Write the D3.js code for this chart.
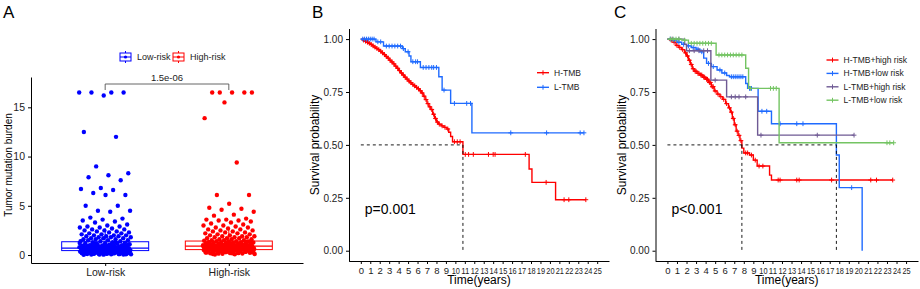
<!DOCTYPE html>
<html>
<head>
<meta charset="utf-8">
<script src="https://cdn.jsdelivr.net/npm/d3@7"></script>
<style>
  body { margin: 0; background: #fff; }
  text { font-family: "Liberation Sans", Arial, sans-serif; }
</style>
</head>
<body>
<div id="chart"></div>
<script>
// ---- panel A data (tumour mutation burden per risk group) ----
var riskGroups = ['Low-risk', 'High-risk'];
var riskColors = ['#0000FF', '#FF0000'];
var lowRiskTMB = [16.5, 16.5, 16.5, 16.5, 16.2, 12.5, 12.0, 9.0, 8.3, 8.1, 7.9, 7.6, 6.8, 6.7, 6.6, 6.3, 6.1, 6.1,
  5.0, 5.0, 4.5, 4.5, 4.4, 3.8, 3.7, 3.6, 3.5, 3.4, 3.3, 3.1, 3.0, 2.9, 2.9, 2.8, 2.8, 2.7, 2.6, 2.6, 2.5, 2.5,
  2.4, 2.4, 2.3, 2.3, 2.2, 2.2, 2.1, 2.1, 2.0, 2.0, 2.0, 1.9, 1.9, 1.9, 1.8, 1.8, 1.8, 1.7, 1.7, 1.7, 1.6, 1.6,
  1.6, 1.5, 1.5, 1.5, 1.4, 1.4, 1.4, 1.3, 1.3, 1.25, 1.2, 1.2, 1.15, 1.1, 1.1, 1.05, 1.0, 1.0, 0.97, 0.95, 0.93,
  0.9, 0.9, 0.88, 0.85, 0.85, 0.82, 0.8, 0.8, 0.78, 0.75, 0.75, 0.73, 0.7, 0.7, 0.68, 0.66, 0.65, 0.63, 0.62,
  0.6, 0.6, 0.58, 0.57, 0.55, 0.55, 0.53, 0.52, 0.5, 0.5, 0.48, 0.47, 0.45, 0.45, 0.43, 0.42, 0.4, 0.4, 0.38,
  0.37, 0.35, 0.35, 0.33, 0.32, 0.3, 0.3, 0.28, 0.27, 0.25, 0.25, 0.23, 0.22, 0.2, 0.2, 0.18, 0.17, 0.15, 0.15,
  0.13, 0.12, 0.1, 0.1, 0.08, 0.07, 0.05, 0.05, 0.04, 0.03, 1.28, 1.18, 1.08, 0.98, 0.92, 0.87, 0.83, 0.77, 0.72,
  0.67, 0.64, 0.59, 0.54, 0.51, 0.46, 0.44, 0.41, 0.36, 0.34, 0.31, 0.26, 0.24, 0.21, 0.16, 0.14, 0.11, 0.09,
  0.06, 1.22, 1.12, 1.02, 0.96, 0.89, 0.81, 0.76, 0.71, 0.69, 0.61, 0.56, 0.49, 0.39, 0.29, 0.19, 0.12, 0.08];
var highRiskTMB = [16.5, 16.5, 16.5, 16.5, 16.5, 15.5, 13.9, 9.4, 6.1, 6.1, 5.2, 4.8, 4.7, 4.6, 4.4, 4.1, 4.0,
  3.7, 3.6, 3.6, 3.5, 3.5, 3.4, 3.3, 3.2, 3.1, 3.0, 3.0, 2.9, 2.8, 2.8, 2.7, 2.6, 2.6, 2.5, 2.5, 2.4, 2.4, 2.3,
  2.3, 2.2, 2.2, 2.1, 2.1, 2.0, 2.0, 1.9, 1.9, 1.9, 1.8, 1.8, 1.8, 1.7, 1.7, 1.7, 1.6, 1.6, 1.6, 1.5, 1.5, 1.5,
  1.45, 1.4, 1.4, 1.38, 1.35, 1.33, 1.3, 1.3, 1.28, 1.25, 1.22, 1.2, 1.2, 1.17, 1.15, 1.12, 1.1, 1.1, 1.08, 1.05,
  1.03, 1.0, 1.0, 0.98, 0.96, 0.95, 0.93, 0.92, 0.9, 0.9, 0.88, 0.87, 0.85, 0.84, 0.82, 0.8, 0.8, 0.78, 0.77,
  0.75, 0.74, 0.72, 0.7, 0.7, 0.68, 0.66, 0.65, 0.63, 0.62, 0.6, 0.6, 0.58, 0.56, 0.55, 0.53, 0.52, 0.5, 0.48,
  0.47, 0.45, 0.43, 0.42, 0.4, 0.38, 0.36, 0.35, 0.33, 0.3, 0.28, 0.26, 0.25, 0.22, 0.2, 0.18, 0.15, 0.13, 0.1,
  0.08, 0.06, 1.36, 1.27, 1.19, 1.13, 1.06, 0.99, 0.94, 0.91, 0.86, 0.83, 0.79, 0.76, 0.73, 0.69, 0.64, 0.61,
  0.57, 0.54, 0.49, 0.44, 0.39, 0.34, 0.29, 0.24, 0.19, 0.14, 1.31, 1.21, 1.11, 1.01, 0.97, 0.89, 0.81, 0.71,
  0.67, 0.59, 0.51, 0.46, 0.37, 0.27, 0.17, 0.11];
// box summary: [q1, median, q3, lower whisker, upper whisker]
var lowRiskBox = [0.45, 0.7, 1.35, 0.03, 2.7];
var highRiskBox = [0.55, 0.9, 1.42, 0.06, 2.75];
var pValueA = '1.5e-06';
var tmbTicks = [0, 5, 10, 15];

// ---- panels B and C: Kaplan-Meier curves ----
var yearTicks = d3.range(0, 26);
var survTicks = [0, 0.25, 0.5, 0.75, 1];

// B: H-TMB
var bHighTimes = [0.2, 0.4, 0.6, 0.8, 1.0, 1.2, 1.4, 1.6, 1.8, 2.0, 2.2, 2.4, 2.6, 2.8, 3.0, 3.2, 3.4, 3.6, 3.8,
  4.0, 4.2, 4.4, 4.6, 4.8, 5.0, 5.2, 5.4, 5.6, 5.8, 6.0, 6.2, 6.4, 6.6, 6.8, 7.0, 7.2, 7.4, 7.6, 7.8, 8.0, 8.2,
  8.5, 8.8, 9.1, 9.3, 9.5, 9.7, 10.8, 17.8, 18.1, 20.6];
var bHighSurv = [0.995, 0.99, 0.985, 0.98, 0.975, 0.968, 0.962, 0.956, 0.95, 0.943, 0.935, 0.927, 0.918, 0.91,
  0.9, 0.892, 0.883, 0.872, 0.862, 0.851, 0.84, 0.83, 0.82, 0.811, 0.802, 0.794, 0.786, 0.779, 0.772, 0.765,
  0.756, 0.745, 0.73, 0.714, 0.695, 0.68, 0.667, 0.645, 0.625, 0.608, 0.598, 0.59, 0.583, 0.575, 0.56, 0.54,
  0.515, 0.455, 0.386, 0.323, 0.241];
var bHighCens = [0.3, 0.5, 0.7, 0.9, 1.1, 1.3, 1.5, 1.7, 1.9, 2.1, 2.3, 2.5, 2.7, 2.9, 3.1, 3.3, 3.5, 3.7, 3.9,
  4.1, 4.3, 4.5, 4.7, 4.9, 5.1, 5.3, 5.5, 5.7, 5.9, 6.1, 6.3, 6.5, 6.7, 6.9, 7.1, 7.3, 7.5, 7.7, 7.9, 8.1, 8.3,
  8.6, 8.9, 9.2, 9.9, 10.2, 10.5, 11.05, 11.4, 11.9, 13.5, 14.0, 14.2, 17.4, 19.6, 21.5, 22.0, 23.8];
// B: L-TMB
var bLowTimes = [1.6, 2.4, 4.4, 4.7, 5.1, 5.3, 6.3, 8.25, 8.6, 9.5, 11.75];
var bLowSurv = [0.987, 0.967, 0.955, 0.94, 0.92, 0.893, 0.866, 0.822, 0.759, 0.696, 0.557];
var bLowCens = [0.2, 0.4, 0.6, 0.8, 1.0, 1.2, 1.4, 1.8, 2.1, 2.7, 3.0, 3.3, 3.6, 3.9, 4.2, 4.5, 5.0, 5.5, 5.8,
  6.0, 6.6, 6.9, 7.2, 7.5, 7.7, 8.0, 8.8, 9.9, 11.2, 11.6, 15.86, 19.65, 23.2, 23.6];

// C: H-TMB+high risk
var cHHTimes = [0.3, 0.6, 0.9, 1.2, 1.5, 1.8, 2.0, 2.2, 2.4, 2.6, 2.8, 3.1, 3.4, 3.7, 4.0, 4.3, 4.6, 4.9, 5.2,
  5.5, 5.8, 6.1, 6.4, 6.6, 6.8, 7.0, 7.2, 7.4, 7.6, 7.8, 8.0, 8.6, 9.0, 9.4, 10.7, 10.9];
var cHHSurv = [0.995, 0.985, 0.97, 0.96, 0.95, 0.935, 0.92, 0.9, 0.88, 0.86, 0.848, 0.838, 0.83, 0.82, 0.81,
  0.795, 0.775, 0.755, 0.74, 0.728, 0.715, 0.695, 0.675, 0.655, 0.625, 0.595, 0.565, 0.545, 0.52, 0.485,
  0.462, 0.452, 0.428, 0.4, 0.357, 0.334];
var cHHCens = [0.4, 0.7, 1.0, 1.3, 1.6, 1.9, 2.1, 2.3, 2.5, 2.7, 2.9, 3.0, 3.2, 3.3, 3.5, 3.6, 3.8, 3.9, 4.1,
  4.2, 4.4, 4.5, 4.7, 4.8, 5.0, 5.3, 5.6, 5.9, 6.2, 6.5, 6.7, 6.9, 7.1, 7.3, 7.5, 7.7, 8.2, 8.4, 8.8, 9.2, 9.6,
  10.0, 11.6, 11.8, 13.55, 13.8, 17.2, 21.3, 21.9, 23.6];
// C: H-TMB+low risk
var cHLTimes = [0.5, 1.0, 1.5, 2.0, 2.5, 3.0, 3.4, 3.8, 4.1, 4.6, 5.2, 5.7, 6.2, 6.5, 8.2, 8.4, 9.5, 10.9, 17.7,
  18.0, 20.4];
var cHLSurv = [0.995, 0.985, 0.975, 0.968, 0.96, 0.952, 0.94, 0.91, 0.885, 0.87, 0.854, 0.84, 0.828, 0.822,
  0.79, 0.767, 0.659, 0.6, 0.452, 0.298, 0];
var cHLCens = [0.3, 0.7, 1.2, 1.7, 2.2, 2.7, 3.2, 3.6, 4.3, 4.8, 5.5, 6.0, 6.7, 6.9, 7.1, 7.3, 7.5, 7.7, 7.9,
  8.6, 8.8, 9.9, 10.4, 11.8, 13.55, 14.2, 19.3];
// C: L-TMB+high risk
var cLHTimes = [1.8, 2.0, 4.55, 6.2, 9.45];
var cLHSurv = [0.975, 0.945, 0.806, 0.727, 0.546];
var cLHCens = [0.5, 1.2, 2.3, 2.8, 3.3, 3.8, 4.2, 5.0, 6.7, 7.1, 7.5, 8.2, 9.8, 15.7, 19.55];
// C: L-TMB+low risk
var cLLTimes = [1.5, 2.2, 5.1, 8.2, 8.5, 11.7];
var cLLSurv = [0.995, 0.98, 0.925, 0.862, 0.767, 0.51];
var cLLCens = [0.3, 0.6, 0.9, 1.2, 1.8, 2.5, 2.8, 3.1, 3.4, 3.7, 4.0, 4.3, 4.6, 5.4, 5.7, 6.0, 6.3, 6.6, 6.9,
  7.2, 7.5, 7.8, 8.7, 10.8, 11.1, 11.4, 23.0, 23.3, 23.7];

var W = 920, H = 289;
var svg = d3.select('#chart').append('svg')
    .attr('width', W)
    .attr('height', H);

function styleAxis(sel, size) {
    sel.selectAll('.domain').attr('stroke', '#000').attr('stroke-width', 1);
    sel.selectAll('.tick line').attr('stroke', '#000');
    sel.selectAll('.tick text')
        .attr('fill', '#222')
        .style('font-size', size + 'px')
        .style('font-family', '"Liberation Sans", Arial, sans-serif');
}

function panelLabel(txt, x) {
    svg.append('text')
        .attr('x', x)
        .attr('y', 18)
        .style('font-size', '17px')
        .text(txt);
}

// ================= panel A =================
var xA = d3.scalePoint().domain(riskGroups).range([31, 303]).padding(0.6);
var yA = d3.scaleLinear().domain([-0.81, 18.08]).range([263, 77]);
var gA = svg.append('g');

var yAxisA = gA.append('g')
    .attr('transform', 'translate(31,0)')
    .call(d3.axisLeft(yA).tickValues(tmbTicks).tickSize(3).tickSizeOuter(0));
styleAxis(yAxisA, 10.5);
var xAxisA = gA.append('g')
    .attr('transform', 'translate(0,263)')
    .call(d3.axisBottom(xA).tickSize(3).tickSizeOuter(0));
styleAxis(xAxisA, 10.5);

gA.append('text')
    .attr('transform', 'translate(12,' + ((77 + 263) / 2 - 5) + ') rotate(-90)')
    .attr('text-anchor', 'middle')
    .style('font-size', '10px')
    .text('Tumor mutation burden');

var boxes = [lowRiskBox, highRiskBox];
var tmbData = [lowRiskTMB, highRiskTMB];
riskGroups.forEach(function (grp, gi) {
    var cx = xA(grp);
    var b = boxes[gi];
    var col = riskColors[gi];
    var bw = 87;
    gA.append('line')
        .attr('x1', cx).attr('x2', cx)
        .attr('y1', yA(b[2])).attr('y2', yA(b[4]))
        .attr('stroke', col);
    gA.append('line')
        .attr('x1', cx).attr('x2', cx)
        .attr('y1', yA(b[0])).attr('y2', yA(b[3]))
        .attr('stroke', col);
    gA.append('rect')
        .attr('x', cx - bw / 2)
        .attr('y', yA(b[2]))
        .attr('width', bw)
        .attr('height', yA(b[0]) - yA(b[2]))
        .attr('fill', '#fff')
        .attr('stroke', col)
        .attr('stroke-width', 1);
    gA.append('line')
        .attr('x1', cx - bw / 2).attr('x2', cx + bw / 2)
        .attr('y1', yA(b[1])).attr('y2', yA(b[1]))
        .attr('stroke', col)
        .attr('stroke-width', 1.2);

    // jittered points; offsets spread with the golden ratio so they are repeatable
    gA.selectAll('circle.grp' + gi)
        .data(tmbData[gi])
        .enter()
        .append('circle')
        .attr('class', 'grp' + gi)
        .attr('cx', function (d, i) {
            return cx + (((i + gi * 7) * 0.6180339887) % 1 - 0.5) * 52;
        })
        .attr('cy', function (d) {
            return yA(d);
        })
        .attr('r', 2.2)
        .attr('fill', col);
});

// p value bracket
var bracketY = 84;
gA.append('path')
    .attr('d', 'M' + xA(riskGroups[0]) + ',' + (bracketY + 6) + 'V' + bracketY +
        'H' + xA(riskGroups[1]) + 'V' + (bracketY + 6))
    .attr('fill', 'none')
    .attr('stroke', '#555')
    .attr('stroke-width', 0.9);
gA.append('text')
    .attr('x', (xA(riskGroups[0]) + xA(riskGroups[1])) / 2)
    .attr('y', bracketY - 3)
    .attr('text-anchor', 'middle')
    .style('font-size', '9.5px')
    .attr('fill', '#222')
    .text(pValueA);

// legend A
var legA = gA.append('g');
[120, 173].forEach(function (lx, gi) {
    var col = riskColors[gi];
    var ly = 57;
    legA.append('line').attr('x1', lx + 5.5).attr('x2', lx + 5.5)
        .attr('y1', ly - 6).attr('y2', ly + 6).attr('stroke', col);
    legA.append('rect').attr('x', lx).attr('y', ly - 4).attr('width', 11).attr('height', 8)
        .attr('fill', '#fff').attr('stroke', col);
    legA.append('line').attr('x1', lx).attr('x2', lx + 11)
        .attr('y1', ly).attr('y2', ly).attr('stroke', col);
    legA.append('circle').attr('cx', lx + 5.5).attr('cy', ly).attr('r', 1.6).attr('fill', col);
    legA.append('text').attr('x', lx + 17).attr('y', ly + 3.2)
        .style('font-size', '9px').attr('fill', '#222')
        .text(riskGroups[gi]);
});

panelLabel('A', 3);

// ================= KM panels =================
function survAt(times, surv, t) {
    var s = 1;
    for (var i = 0; i < times.length; i++) {
        if (times[i] <= t) s = surv[i];
    }
    return s;
}

function kmPanel(opt) {
    var x = d3.scaleLinear().domain([-1.25, 26.25]).range([opt.left, opt.right]);
    var y = d3.scaleLinear().domain([-0.05, 1.05]).range([261.3, 28.5]);
    var g = svg.append('g');

    var yAx = g.append('g')
        .attr('transform', 'translate(' + opt.left + ',0)')
        .call(d3.axisLeft(y).tickValues(survTicks).tickFormat(d3.format('.2f')).tickSize(3).tickSizeOuter(0));
    styleAxis(yAx, 10);
    var xAx = g.append('g')
        .attr('transform', 'translate(0,261)')
        .call(d3.axisBottom(x).tickValues(yearTicks).tickFormat(d3.format('d')).tickSize(3).tickSizeOuter(0));
    styleAxis(xAx, 9.5);
    // two-digit year labels are squeezed, as they are in the original figure
    xAx.selectAll('.tick text')
        .filter(function (d) { return d >= 10; })
        .attr('textLength', 8.2)
        .attr('lengthAdjust', 'spacingAndGlyphs');

    g.append('text')
        .attr('transform', 'translate(' + (opt.left - 30) + ',145) rotate(-90)')
        .attr('text-anchor', 'middle')
        .style('font-size', '12px')
        .text('Survival probability');
    g.append('text')
        .attr('x', (opt.left + opt.right) / 2)
        .attr('y', 284)
        .attr('text-anchor', 'middle')
        .style('font-size', '12px')
        .text('Time(years)');

    var line = d3.line()
        .x(function (d) { return x(d[0]); })
        .y(function (d) { return y(d[1]); })
        .curve(d3.curveStepAfter);

    var medians = [];
    opt.series.forEach(function (s) {
        var pts = [[0, 1]];
        s.times.forEach(function (t, i) { pts.push([t, s.surv[i]]); });
        var lastT = Math.max(d3.max(s.times), d3.max(s.cens));
        if (s.surv[s.surv.length - 1] > 0) pts.push([lastT, s.surv[s.surv.length - 1]]);
        g.append('path')
            .attr('d', line(pts))
            .attr('fill', 'none')
            .attr('stroke', s.color)
            .attr('stroke-width', 1.4);
        g.selectAll(null)
            .data(s.cens)
            .enter()
            .append('path')
            .attr('transform', function (t) {
                return 'translate(' + x(t) + ',' + y(survAt(s.times, s.surv, t)) + ')';
            })
            .attr('d', 'M-2.4,0H2.4M0,-2.4V2.4')
            .attr('stroke', s.color)
            .attr('stroke-width', 1);
        var idx = s.surv.findIndex(function (v) { return v <= 0.5; });
        if (idx >= 0) medians.push(s.times[idx]);
    });

    // median survival lines
    var maxMed = d3.max(medians);
    g.append('line')
        .attr('x1', x(0)).attr('x2', x(maxMed))
        .attr('y1', y(0.5)).attr('y2', y(0.5))
        .attr('stroke', '#000').attr('stroke-width', 0.9)
        .attr('stroke-dasharray', '3,3');
    medians.forEach(function (m) {
        g.append('line')
            .attr('x1', x(m)).attr('x2', x(m))
            .attr('y1', y(0.5)).attr('y2', y(0))
            .attr('stroke', '#000').attr('stroke-width', 0.9)
            .attr('stroke-dasharray', '3,3');
    });

    g.append('text')
        .attr('x', x(0) + 4)
        .attr('y', 214)
        .style('font-size', '14px')
        .text(opt.pText);

    // legend
    opt.series.forEach(function (s, i) {
        var ly = opt.legendY + i * opt.legendStep;
        g.append('line')
            .attr('x1', opt.legendX).attr('x2', opt.legendX + 12)
            .attr('y1', ly).attr('y2', ly)
            .attr('stroke', s.color).attr('stroke-width', 1.4);
        g.append('path')
            .attr('transform', 'translate(' + (opt.legendX + 6) + ',' + ly + ')')
            .attr('d', 'M0,-2.4V2.4')
            .attr('stroke', s.color).attr('stroke-width', 1);
        g.append('text')
            .attr('x', opt.legendX + 17)
            .attr('y', ly + 3)
            .style('font-size', '8.5px')
            .attr('fill', '#222')
            .text(s.name);
    });
}

kmPanel({
    left: 349, right: 609,
    pText: 'p=0.001',
    legendX: 537, legendY: 72.7, legendStep: 14.6,
    series: [
        {name: 'H-TMB', color: '#FF0000', times: bHighTimes, surv: bHighSurv, cens: bHighCens},
        {name: 'L-TMB', color: '#1F6BFF', times: bLowTimes, surv: bLowSurv, cens: bLowCens}
    ]
});
panelLabel('B', 312);

kmPanel({
    left: 655.5, right: 918,
    pText: 'p<0.001',
    legendX: 826.5, legendY: 60, legendStep: 13.4,
    series: [
        {name: 'H-TMB+high risk', color: '#FF0000', times: cHHTimes, surv: cHHSurv, cens: cHHCens},
        {name: 'H-TMB+low risk', color: '#1F6BFF', times: cHLTimes, surv: cHLSurv, cens: cHLCens},
        {name: 'L-TMB+high risk', color: '#6F5A94', times: cLHTimes, surv: cLHSurv, cens: cLHCens},
        {name: 'L-TMB+low risk', color: '#74C463', times: cLLTimes, surv: cLLSurv, cens: cLLCens}
    ]
});
panelLabel('C', 614);
</script>
</body>
</html>
